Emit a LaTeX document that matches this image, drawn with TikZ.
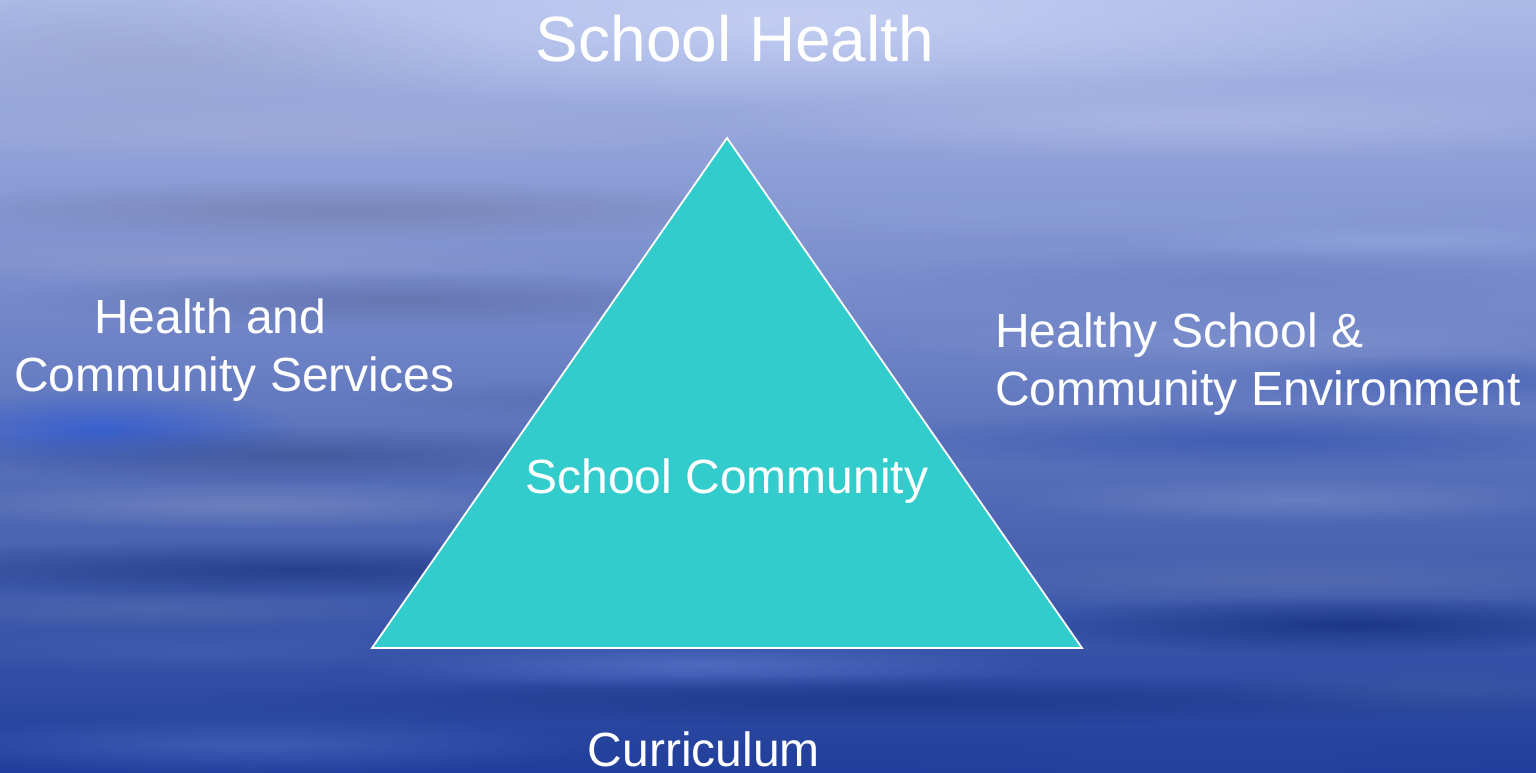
\documentclass[tikz,border=0pt]{standalone}
\usepackage{fontspec}
\setmainfont{Liberation Sans}
\usetikzlibrary{fadings}
\tikzfading[name=softblob, inner color=transparent!10, outer color=transparent!100]
\definecolor{bgtop}{RGB}{172,186,232}
\definecolor{bgmid}{RGB}{92,115,182}
\definecolor{bgbot}{RGB}{32,62,155}
\definecolor{tri}{RGB}{51,204,204}
\begin{document}
\begin{tikzpicture}[x=1pt,y=-1pt,
  lbl/.style={text=white, inner sep=0pt, font=\fontsize{48}{57.5}\selectfont},
  blob/.style={path fading=softblob}]
\useasboundingbox (0,0) rectangle (1536,773);
\clip (0,0) rectangle (1536,773);
\shade[top color=bgtop, middle color=bgmid, bottom color=bgbot] (0,0) rectangle (1536,773);
\foreach \x/\y/\rx/\ry/\r/\g/\b/\o in {
  800/20/700/90/205/215/245/0.8,
  150/60/350/70/150/160/200/0.5,
  300/130/500/30/165/175/215/0.6,
  1200/120/500/40/185/195/235/0.6,
  350/210/450/30/115/125/170/0.75,
  1100/210/500/30/140/160/215/0.6,
  200/260/400/25/150/160/205/0.5,
  400/300/400/30/90/105/160/0.65,
  1250/280/400/30/105/125/195/0.6,
  1250/340/400/25/140/155/210/0.5,
  1400/240/300/20/150/170/225/0.6,
  100/430/200/40/45/90/210/0.85,
  300/455/400/30/55/75/140/0.65,
  250/505/350/25/130/145/195/0.65,
  600/400/250/20/80/100/160/0.5,
  1250/440/400/30/50/80/175/0.7,
  1300/500/300/25/120/140/200/0.65,
  1450/380/250/25/55/85/175/0.6,
  300/570/500/30/25/50/125/0.75,
  150/610/300/20/95/115/175/0.5,
  1300/580/450/30/100/120/180/0.55,
  1350/625/350/30/20/45/125/0.85,
  700/665/350/25/90/120/205/0.75,
  200/650/300/25/70/100/180/0.6,
  900/700/700/25/25/50/130/0.75,
  1450/690/250/25/70/95/165/0.5,
  250/745/350/30/80/110/195/0.65,
  1200/760/400/30/40/70/160/0.6}
{
  \definecolor{blobc}{RGB}{\r,\g,\b}
  \fill[blobc, opacity=\o, blob] (\x,\y) ellipse [x radius=\rx, y radius=\ry];
}
\coordinate (apex) at (727,138);
\coordinate (bl) at (372,648);
\coordinate (br) at (1082,648);
\filldraw[fill=tri, draw=white, line width=1.8pt, line join=miter] (apex) -- (bl) -- (br) -- cycle;
\node[lbl, anchor=base, font=\fontsize{64}{70}\selectfont] (title) at (735,62) {School Health};
\node[lbl, anchor=north west, align=left] (hcs) at (14,299) {\hspace*{80pt}Health and\\Community Services};
\node[lbl, anchor=north west, align=left] (hsce) at (995,313) {Healthy School \&\\Community Environment};
\node[lbl, anchor=base] (sc) at (727,493) {School Community};
\node[lbl, anchor=base] (cur) at (704,766) {Curriculum};
\end{tikzpicture}
\end{document}
